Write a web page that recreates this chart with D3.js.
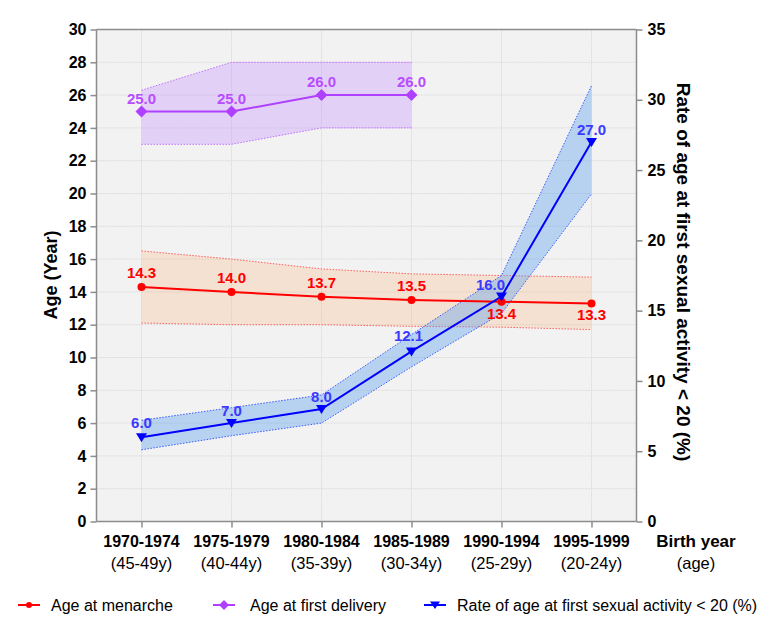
<!DOCTYPE html>
<html><head><meta charset="utf-8">
<script src="https://cdn.jsdelivr.net/npm/d3@7"></script>
<style>body{margin:0;background:#fff;font-family:"Liberation Sans",Arial,sans-serif;}</style>
</head><body><svg id="c" width="775" height="629"></svg>
<script>
const categories = ["1970-1974","1975-1979","1980-1984","1985-1989","1990-1994","1995-1999"];
const ageLabels = ["(45-49y)","(40-44y)","(35-39y)","(30-34y)","(25-29y)","(20-24y)"];
const leftTicks = d3.range(0, 31, 2);
const rightTicks = [0,5,10,15,20,25,30,35];

const menarche = [14.3,14.0,13.7,13.5,13.4,13.3];
const menarcheLo = [12.1,12.0,12.0,11.9,11.85,11.7];
const menarcheHi = [16.5,16.0,15.4,15.1,15.0,14.9];

const delivery = [25.0,25.0,26.0,26.0];
const deliveryLo = [23.0,23.0,24.0,24.0];
const deliveryHi = [26.3,28.0,28.0,28.0];

const sexual = [6.0,7.0,8.0,12.1,16.0,27.0];
const sexualLo = [5.1,6.1,7.0,11.0,14.8,23.3];
const sexualHi = [7.2,8.1,9.0,13.3,17.5,31.0];

const svg = d3.select("#c");
const L = 96.5, R = 636.5, T = 29.5, B = 521.5;
const x = d3.scalePoint().domain(categories).range([L, R]).padding(0.5);
const yL = d3.scaleLinear().domain([0,30]).range([B, T]);
const yR = d3.scaleLinear().domain([0,35]).range([B, T]);

svg.append("rect").attr("x",L).attr("y",T).attr("width",R-L).attr("height",B-T).attr("fill","#f2f2f2");

// grid
const g = svg.append("g");
leftTicks.forEach(t => g.append("line").attr("x1",L).attr("x2",R).attr("y1",yL(t)).attr("y2",yL(t))
  .attr("stroke","#dcdcdc").attr("stroke-width",1).attr("stroke-dasharray","2,1"));
categories.forEach(c => g.append("line").attr("x1",x(c)).attr("x2",x(c)).attr("y1",T).attr("y2",B)
  .attr("stroke","#dcdcdc").attr("stroke-width",1).attr("stroke-dasharray","2,1"));

function band(cats, lo, hi, yS, fill, op, stroke) {
  const data = cats.map((c,i)=>({c, lo:lo[i], hi:hi[i]}));
  svg.append("path").datum(data)
    .attr("d", d3.area().x(d=>x(d.c)).y0(d=>yS(d.lo)).y1(d=>yS(d.hi)))
    .attr("fill", fill).attr("fill-opacity", op);
  [ "lo","hi" ].forEach(k => svg.append("path").datum(data)
    .attr("d", d3.line().x(d=>x(d.c)).y(d=>yS(d[k])))
    .attr("fill","none").attr("stroke",stroke).attr("stroke-width",1).attr("stroke-dasharray","1.5,1.5"));
}
band(categories, menarcheLo, menarcheHi, yL, "#ffb070", 0.25, "#ff6060");
band(categories.slice(0,4), deliveryLo, deliveryHi, yL, "#c080ff", 0.3, "#c070ff");
band(categories, sexualLo, sexualHi, yR, "#5fa0ee", 0.4, "#3a5cff");

function series(vals, yS, color) {
  const data = vals.map((v,i)=>({c:categories[i], v}));
  svg.append("path").datum(data).attr("d", d3.line().x(d=>x(d.c)).y(d=>yS(d.v)))
    .attr("fill","none").attr("stroke",color).attr("stroke-width",2);
  return data;
}
const mData = series(menarche, yL, "#ff0000");
const dData = series(delivery, yL, "#b040ff");
const sData = series(sexual, yR, "#0000ff");

// markers
svg.selectAll(null).data(mData).join("circle").attr("cx",d=>x(d.c)).attr("cy",d=>yL(d.v)).attr("r",4).attr("fill","#ff0000");
svg.selectAll(null).data(dData).join("path").attr("transform",d=>`translate(${x(d.c)},${yL(d.v)})`)
  .attr("d","M0,-6L6,0L0,6L-6,0Z").attr("fill","#b040ff");
svg.selectAll(null).data(sData).join("path").attr("transform",d=>`translate(${x(d.c)},${yR(d.v)})`)
  .attr("d","M-5.5,-4L5.5,-4L0,5Z").attr("fill","#0000ff");

// value labels
const lab = svg.append("g").attr("font-size","15px").attr("font-weight","bold").attr("text-anchor","middle");
const mOff = [[0,-9],[0,-9],[0,-9],[0,-9],[0,17],[0,17]];
mData.forEach((d,i)=>lab.append("text").attr("x",x(d.c)+mOff[i][0]).attr("y",yL(d.v)+mOff[i][1]).attr("fill","#ff0000").text(d.v.toFixed(1)));
dData.forEach((d,i)=>lab.append("text").attr("x",x(d.c)).attr("y",yL(d.v)-8).attr("fill","#b84dff").text(d.v.toFixed(1)));
const sOff = [[0,-9],[0,-7],[0,-7],[-3,-10],[-11,-7],[0,-7]];
sData.forEach((d,i)=>lab.append("text").attr("x",x(d.c)+sOff[i][0]).attr("y",yR(d.v)+sOff[i][1]).attr("fill","#3a3aff").text(d.v.toFixed(1)));

// frame
const ax = "#8c8c8c";
svg.append("line").attr("x1",L).attr("x2",R).attr("y1",T).attr("y2",T).attr("stroke",ax).attr("stroke-width",1.5);
svg.append("line").attr("x1",L).attr("x2",R).attr("y1",B).attr("y2",B).attr("stroke",ax).attr("stroke-width",1.5);
svg.append("line").attr("x1",L).attr("x2",L).attr("y1",T).attr("y2",B).attr("stroke",ax).attr("stroke-width",1.5);
svg.append("line").attr("x1",R).attr("x2",R).attr("y1",T).attr("y2",B).attr("stroke",ax).attr("stroke-width",1.5);

// left axis
const la = svg.append("g").attr("transform",`translate(${L},0)`)
  .call(d3.axisLeft(yL).tickValues(leftTicks).tickSize(6).tickPadding(4));
la.select(".domain").remove();
la.selectAll("line").attr("stroke",ax).attr("stroke-width",1.5);
la.selectAll("text").attr("font-size","16px").attr("font-weight","bold").attr("fill","#000").attr("font-family","Liberation Sans, Arial, sans-serif");

// right axis
const ra = svg.append("g").attr("transform",`translate(${R},0)`)
  .call(d3.axisRight(yR).tickValues(rightTicks).tickSize(6).tickPadding(5));
ra.select(".domain").remove();
ra.selectAll("line").attr("stroke",ax).attr("stroke-width",1.5);
ra.selectAll("text").attr("font-size","16px").attr("font-weight","bold").attr("fill","#000").attr("font-family","Liberation Sans, Arial, sans-serif");

// bottom axis
const ba = svg.append("g").attr("transform",`translate(0,${B})`)
  .call(d3.axisBottom(x).tickSize(6).tickFormat(""));
ba.select(".domain").remove();
ba.selectAll("line").attr("stroke",ax).attr("stroke-width",1.5);
const xl = svg.append("g").attr("text-anchor","middle");
categories.forEach((c,i)=>{
  xl.append("text").attr("x",x(c)).attr("y",547).attr("font-size","16px").attr("font-weight","bold").text(c);
  xl.append("text").attr("x",x(c)).attr("y",569).attr("font-size","16.5px").text(ageLabels[i]);
});
xl.append("text").attr("x",696).attr("y",547).attr("font-size","17px").attr("font-weight","bold").text("Birth year");
xl.append("text").attr("x",696).attr("y",569).attr("font-size","16.5px").text("(age)");

// axis titles
svg.append("text").attr("transform","translate(57,275) rotate(-90)").attr("text-anchor","middle")
  .attr("font-size","18px").attr("font-weight","bold").text("Age (Year)");
svg.append("text").attr("transform","translate(677,272) rotate(90)").attr("text-anchor","middle")
  .attr("font-size","19px").attr("font-weight","bold").text("Rate of age at first sexual activity < 20 (%)");

// legend
const lg = svg.append("g").attr("font-size","16px");
const items = [
  {x:18, tx:51, color:"#ff0000", shape:"circle", label:"Age at menarche"},
  {x:213, tx:250, color:"#b040ff", shape:"diamond", label:"Age at first delivery"},
  {x:424, tx:457, color:"#0000ff", shape:"tri", label:"Rate of age at first sexual activity < 20 (%)"}
];
const ly = 605;
items.forEach(it=>{
  lg.append("line").attr("x1",it.x).attr("x2",it.x+22).attr("y1",ly).attr("y2",ly).attr("stroke",it.color).attr("stroke-width",2);
  const cx = it.x+11;
  if(it.shape==="circle") lg.append("circle").attr("cx",cx).attr("cy",ly).attr("r",3).attr("fill",it.color);
  if(it.shape==="diamond") lg.append("path").attr("transform",`translate(${cx},${ly})`).attr("d","M0,-5L5,0L0,5L-5,0Z").attr("fill",it.color);
  if(it.shape==="tri") lg.append("path").attr("transform",`translate(${cx},${ly})`).attr("d","M-5,-3.5L5,-3.5L0,4Z").attr("fill",it.color);
  lg.append("text").attr("x",it.tx).attr("y",ly+5.5).text(it.label);
});
</script></body></html>
